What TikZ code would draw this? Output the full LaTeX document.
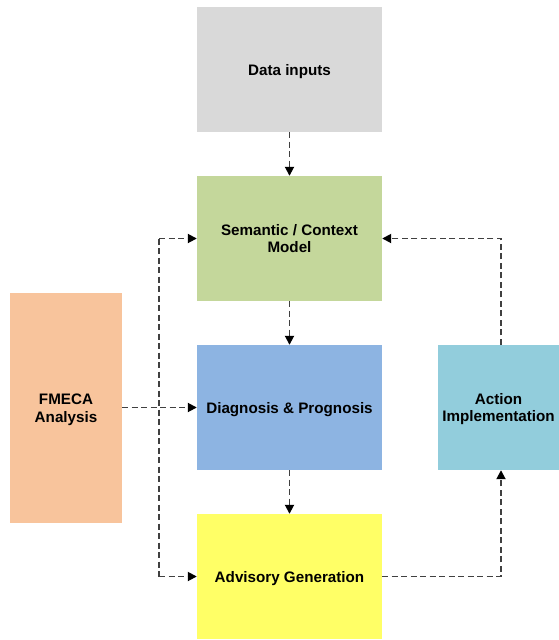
\documentclass[tikz,border=0pt]{standalone}
\usepackage{fontspec}
\setmainfont{Liberation Sans}
\usetikzlibrary{arrows.meta,positioning}
\definecolor{cgray}{HTML}{D9D9D9}
\definecolor{cgreen}{HTML}{C4D79B}
\definecolor{cblue}{HTML}{8DB4E2}
\definecolor{cyellow}{HTML}{FFFF66}
\definecolor{corange}{HTML}{F8C49C}
\definecolor{ccyan}{HTML}{92CDDC}
\definecolor{clink}{HTML}{404040}
\tikzset{
  x=1pt, y=-1pt,
  block/.style={fill=#1, draw=none, minimum width=185pt, minimum height=125pt,
    align=center, font=\bfseries\fontsize{15.2}{17.5}\selectfont, inner sep=0pt,
    text depth=0pt},
  link/.style={draw=clink, line width=1.8pt, dash pattern=on 6pt off 3.5pt,
    -{Triangle[length=9pt,width=9pt,fill=black,color=black]}},
  plain/.style={draw=clink, line width=1.8pt, dash pattern=on 6pt off 3.5pt}
}
\begin{document}
\begin{tikzpicture}
\useasboundingbox (0,0) rectangle (559,640);
% main column
\node[block=cgray]   (data) at (289.5,69.5)  {Data inputs};
\node[block=cgreen]  (sem)  at (289.5,238.5) {Semantic / Context\\Model};
\node[block=cblue]   (diag) at (289.5,407.5) {Diagnosis \& Prognosis};
\node[block=cyellow] (adv)  at (289.5,576.5) {Advisory Generation};
% side boxes
\node[block=corange, minimum width=112pt, minimum height=230pt] (fmeca) at (66,408) {FMECA\\Analysis};
\node[block=ccyan, minimum width=121pt, minimum height=125pt] (act) at (498.5,407.5) {Action\\Implementation};
% turning points
\coordinate (bt) at (159,238.5);
\coordinate (bb) at (159,576.5);
\coordinate (rb) at (501,576.5);
\coordinate (rt) at (501,238.5);
% vertical flow
\draw[link] (data) -- (sem);
\draw[link] (sem) -- (diag);
\draw[link] (diag) -- (adv);
% FMECA feeds
\draw[link] (fmeca.east |- diag) -- (diag.west);
\draw[plain] (bt) -- (bb);
\draw[link] (bt) -- (sem.west);
\draw[link] (bb) -- (adv.west);
% feedback loop
\draw[link] (adv.east) -- (rb) -- (rb |- act.south);
\draw[link] (rb |- act.north) -- (rt) -- (sem.east);
\end{tikzpicture}
\end{document}
